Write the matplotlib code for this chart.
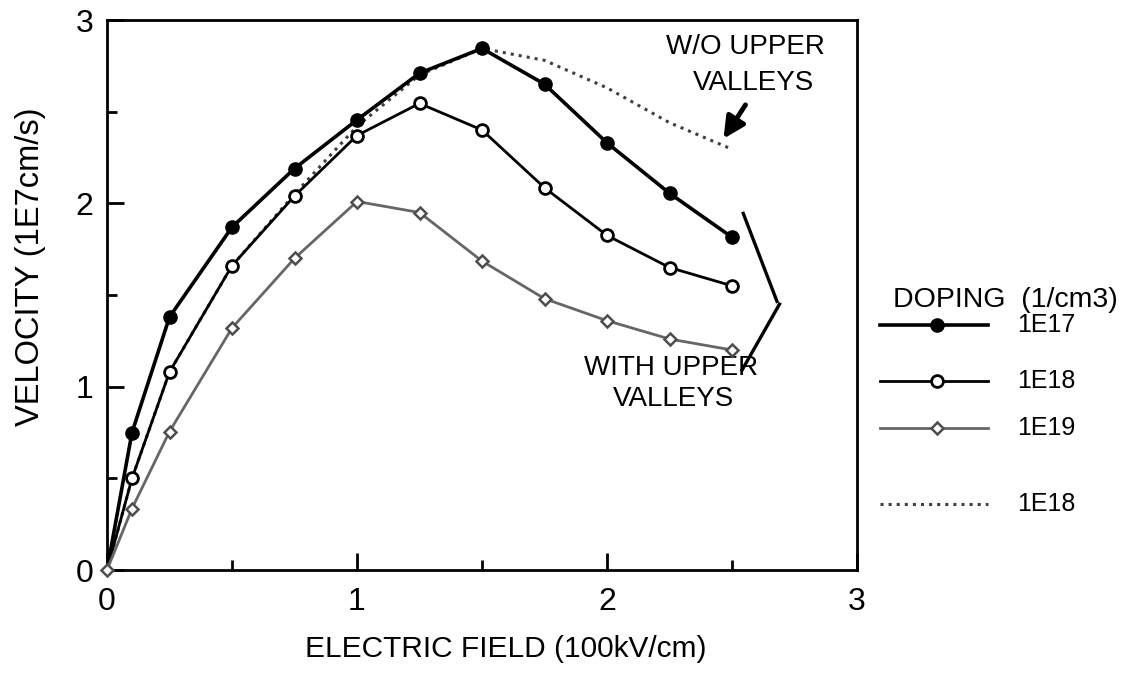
import numpy as np
import matplotlib
matplotlib.use('Agg')
import matplotlib.pyplot as plt
from matplotlib.lines import Line2D

plt.rcParams['font.family'] = ['Liberation Sans', 'DejaVu Sans']

# electric field (100kV/cm)
field = [0, 0.1, 0.25, 0.5, 0.75, 1.0, 1.25, 1.5, 1.75, 2.0, 2.25, 2.5]

# velocity (1E7 cm/s) with upper valleys
v_1e17 = [0, 0.75, 1.38, 1.87, 2.19, 2.455, 2.71, 2.845, 2.65, 2.33, 2.055, 1.815]
v_1e18 = [0, 0.50, 1.08, 1.66, 2.04, 2.37, 2.545, 2.40, 2.085, 1.825, 1.65, 1.55]
v_1e19 = [0, 0.335, 0.755, 1.32, 1.70, 2.01, 1.95, 1.685, 1.48, 1.36, 1.26, 1.20]

# 1E18 without upper valleys
v_1e18_wo = [0, 0.50, 1.08, 1.66, 2.05, 2.42, 2.70, 2.845, 2.78, 2.63, 2.44, 2.295]

legend_labels = ['1E17', '1E18', '1E19', '1E18']

fig = plt.figure(figsize=(11.26, 6.73), dpi=100)
ax = fig.add_axes([107/1126, 1 - 570/673, 750/1126, 550/673])

ax.plot(field, v_1e18_wo, ls=':', color='0.25', lw=2.2, zorder=2)
ax.plot(field, v_1e18, color='black', lw=2, marker='o', ms=8.5, mfc='white',
        mec='black', mew=2, markevery=slice(1, None), zorder=4)
ax.plot(field, v_1e17, color='black', lw=2.6, marker='o', ms=9.5, mfc='black',
        mec='black', markevery=slice(1, None), zorder=5)
ax.plot(field, v_1e19, color='0.4', lw=2, marker='D', ms=6.5, mfc='white',
        mec='0.3', mew=1.8, zorder=6, clip_on=False)

ax.set_xlim(0, 3)
ax.set_ylim(0, 3)
ax.set_xticks([0, 1, 2, 3])
ax.set_yticks([0, 1, 2, 3])
ax.set_xticks([0.5, 1.5, 2.5], minor=True)
ax.set_yticks([0.5, 1.5, 2.5], minor=True)
ax.tick_params(which='both', direction='in', width=2, labelsize=23, top=False, right=False)
ax.tick_params(which='major', length=12)
ax.tick_params(axis='x', which='major', pad=12)
ax.tick_params(axis='y', which='major', pad=10)
ax.tick_params(which='minor', length=7)
for s in ax.spines.values():
    s.set_linewidth(2)

ax.set_xlabel('ELECTRIC FIELD (100kV/cm)', fontsize=21.5)
ax.set_ylabel('VELOCITY (1E7cm/s)', fontsize=23.5)
ax.xaxis.set_label_coords((506 - 107) / 750, -(635 - 570) / 550)
ax.yaxis.set_label_coords(-(107 - 46) / 750, (570 - 267) / 550)

# annotations
ax.text(2.555, 2.85, 'W/O UPPER', fontsize=20, ha='center', va='center')
ax.text(2.585, 2.655, 'VALLEYS', fontsize=20, ha='center', va='center')
ax.annotate('', xy=(2.46, 2.34), xytext=(2.56, 2.55),
            arrowprops=dict(arrowstyle='-|>', lw=3.5, mutation_scale=32, color='black'))
ax.text(2.255, 1.10, 'WITH UPPER', fontsize=20, ha='center', va='center')
ax.text(2.265, 0.93, 'VALLEYS', fontsize=20, ha='center', va='center')
ax.plot([2.545, 2.68], [1.945, 1.465], color='black', lw=2.4)
ax.plot([2.69, 2.54], [1.45, 1.09], color='black', lw=2.4)

# legend drawn by hand to keep the original spacing
fig.text(893/1126, 1 - 300/673, 'DOPING  (1/cm3)', fontsize=20.5, va='center')
styles = [
    dict(color='black', lw=2.6, marker='o', ms=9.5, mfc='black', mec='black'),
    dict(color='black', lw=2, marker='o', ms=8.5, mfc='white', mec='black', mew=2),
    dict(color='0.4', lw=2, marker='D', ms=6.5, mfc='white', mec='0.3', mew=1.8),
    dict(color='0.25', lw=2.2, ls=':', marker=None),
]
rows = [325, 381, 428, 504]
for lab, st, yp in zip(legend_labels, styles, rows):
    yf = 1 - yp / 673
    ln = Line2D([880/1126, 937/1126, 988/1126], [yf, yf, yf], transform=fig.transFigure,
                markevery=[1], **st)
    fig.add_artist(ln)
    fig.text(1017/1126, yf, lab, fontsize=18, va='center')

plt.savefig('out.png', dpi=100)
